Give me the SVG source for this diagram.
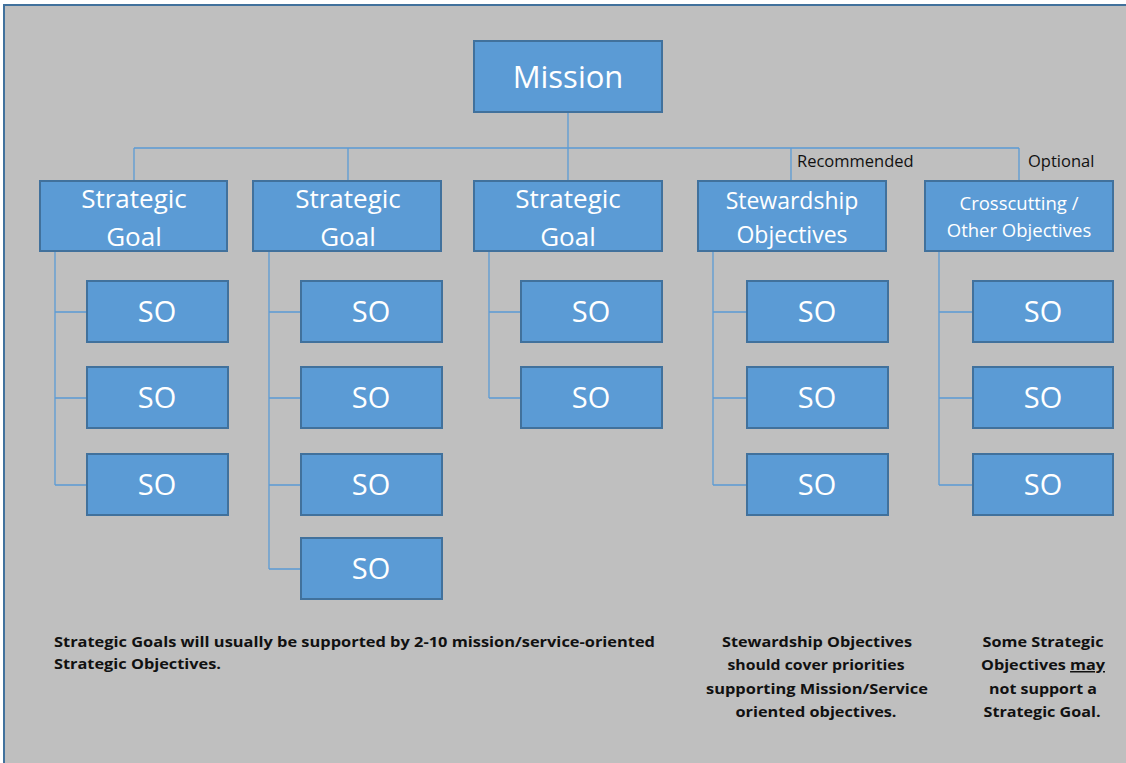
<svg xmlns="http://www.w3.org/2000/svg" width="1126" height="763" viewBox="0 0 1126 763">
<style>
.box{fill:#5B9BD5;stroke:#41719C;stroke-width:2}
.lbl{fill:#fff;font-family:"Open Sans","Liberation Sans",sans-serif;text-anchor:middle}
.ln{stroke:#5B9BD5;stroke-width:1.3;fill:none}
.note{fill:#111;font-family:"Open Sans","Liberation Sans",sans-serif;font-weight:bold;font-size:15px}
.tag{fill:#111;font-family:"Open Sans","Liberation Sans",sans-serif;font-size:16.5px}
</style>
<rect x="0" y="0" width="1126" height="763" fill="#fff"/>
<rect x="4" y="5" width="1130" height="770" fill="#BFBFBF" stroke="#41719C" stroke-width="2"/>
<g id="connectors">
<path class="ln" d="M568 112V181M134 148H1019M134 148V181M348 148V181M791 148V181M1019 148V181"/>
<path class="ln" d="M55 251V485M55 312H87M55 398H87M55 485H87"/>
<path class="ln" d="M269 251V569M269 312H301M269 398H301M269 485H301M269 569H301"/>
<path class="ln" d="M489 251V398M489 312H521M489 398H521"/>
<path class="ln" d="M713 251V485M713 312H747M713 398H747M713 485H747"/>
<path class="ln" d="M939 251V485M939 312H973M939 398H973M939 485H973"/>
</g>
<g id="mission"><rect class="box" x="474" y="41" width="188" height="71"/><text class="lbl" x="568" y="88" font-size="31">Mission</text></g>
<g id="sg1"><rect class="box" x="40" y="181" width="187" height="70"/><text class="lbl" x="134" y="208" font-size="26">Strategic</text><text class="lbl" x="134" y="246" font-size="26">Goal</text></g>
<g id="sg2"><rect class="box" x="253" y="181" width="188" height="70"/><text class="lbl" x="348" y="208" font-size="26">Strategic</text><text class="lbl" x="348" y="246" font-size="26">Goal</text></g>
<g id="sg3"><rect class="box" x="474" y="181" width="188" height="70"/><text class="lbl" x="568" y="208" font-size="26">Strategic</text><text class="lbl" x="568" y="246" font-size="26">Goal</text></g>
<g id="stew"><rect class="box" x="698" y="181" width="188" height="70"/><text class="lbl" x="792" y="209" font-size="23">Stewardship</text><text class="lbl" x="792" y="243" font-size="23">Objectives</text></g>
<g id="cross"><rect class="box" x="925" y="181" width="188" height="70"/><text class="lbl" x="1019" y="210" font-size="18.5">Crosscutting /</text><text class="lbl" x="1019" y="237" font-size="18.5">Other Objectives</text></g>
<text class="tag" x="797" y="167">Recommended</text>
<text class="tag" x="1028" y="167">Optional</text>
<g id="so1a"><rect class="box" x="87" y="281" width="141" height="61"/><text class="lbl" x="157" y="322" font-size="29">SO</text></g>
<g id="so1b"><rect class="box" x="87" y="367" width="141" height="61"/><text class="lbl" x="157" y="408" font-size="29">SO</text></g>
<g id="so1c"><rect class="box" x="87" y="454" width="141" height="61"/><text class="lbl" x="157" y="495" font-size="29">SO</text></g>
<g id="so2a"><rect class="box" x="301" y="281" width="141" height="61"/><text class="lbl" x="371" y="322" font-size="29">SO</text></g>
<g id="so2b"><rect class="box" x="301" y="367" width="141" height="61"/><text class="lbl" x="371" y="408" font-size="29">SO</text></g>
<g id="so2c"><rect class="box" x="301" y="454" width="141" height="61"/><text class="lbl" x="371" y="495" font-size="29">SO</text></g>
<g id="so2d"><rect class="box" x="301" y="538" width="141" height="61"/><text class="lbl" x="371" y="579" font-size="29">SO</text></g>
<g id="so3a"><rect class="box" x="521" y="281" width="141" height="61"/><text class="lbl" x="591" y="322" font-size="29">SO</text></g>
<g id="so3b"><rect class="box" x="521" y="367" width="141" height="61"/><text class="lbl" x="591" y="408" font-size="29">SO</text></g>
<g id="so4a"><rect class="box" x="747" y="281" width="141" height="61"/><text class="lbl" x="817" y="322" font-size="29">SO</text></g>
<g id="so4b"><rect class="box" x="747" y="367" width="141" height="61"/><text class="lbl" x="817" y="408" font-size="29">SO</text></g>
<g id="so4c"><rect class="box" x="747" y="454" width="141" height="61"/><text class="lbl" x="817" y="495" font-size="29">SO</text></g>
<g id="so5a"><rect class="box" x="973" y="281" width="140" height="61"/><text class="lbl" x="1043" y="322" font-size="29">SO</text></g>
<g id="so5b"><rect class="box" x="973" y="367" width="140" height="61"/><text class="lbl" x="1043" y="408" font-size="29">SO</text></g>
<g id="so5c"><rect class="box" x="973" y="454" width="140" height="61"/><text class="lbl" x="1043" y="495" font-size="29">SO</text></g>
<g id="notes">
<text class="note" x="54" y="647" textLength="601" lengthAdjust="spacingAndGlyphs">Strategic Goals will usually be supported by 2-10 mission/service-oriented</text>
<text class="note" x="54" y="669" textLength="167" lengthAdjust="spacingAndGlyphs">Strategic Objectives.</text>
<g text-anchor="middle">
<text class="note" x="817" y="647" textLength="190" lengthAdjust="spacingAndGlyphs">Stewardship Objectives</text>
<text class="note" x="816" y="670" textLength="177" lengthAdjust="spacingAndGlyphs">should cover priorities</text>
<text class="note" x="817" y="694" textLength="222" lengthAdjust="spacingAndGlyphs">supporting Mission/Service</text>
<text class="note" x="816" y="717" textLength="161" lengthAdjust="spacingAndGlyphs">oriented objectives.</text>
<text class="note" x="1043" y="647" textLength="121" lengthAdjust="spacingAndGlyphs">Some Strategic</text>
<text class="note" x="1043" y="670" textLength="124" lengthAdjust="spacingAndGlyphs">Objectives <tspan text-decoration="underline">may</tspan></text>
<text class="note" x="1043" y="694" textLength="108" lengthAdjust="spacingAndGlyphs">not support a</text>
<text class="note" x="1042" y="717" textLength="117" lengthAdjust="spacingAndGlyphs">Strategic Goal.</text>
</g>
</g>
</svg>
